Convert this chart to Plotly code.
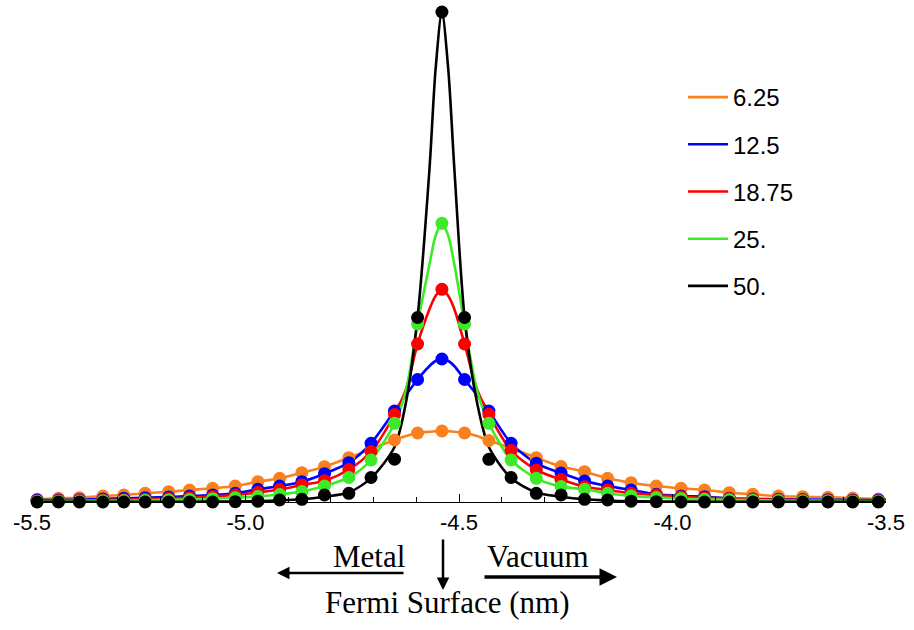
import plotly.graph_objects as go

# ---------------- data ----------------
series_names = ["6.25", "12.5", "18.75", "25.", "50."]
series_colors = ["rgb(250,128,30)", "rgb(0,0,255)", "rgb(255,0,0)", "rgb(60,235,40)", "rgb(0,0,0)"]

# sampled positions (nm)
x_pts = [-5.488, -5.438, -5.389, -5.334, -5.285, -5.235, -5.180, -5.131, -5.077, -5.024,
         -4.971, -4.920, -4.868, -4.815, -4.758, -4.706, -4.651, -4.597, -4.540, -4.487,
         -4.430, -4.378, -4.319, -4.261, -4.206, -4.152, -4.097, -4.038, -3.980, -3.925,
         -3.867, -3.812, -3.752, -3.695, -3.636, -3.578, -3.518]

orange_pts = [2.7, 3.7, 4.3, 6, 7, 8.7, 10.3, 12, 13.7, 16, 20.3, 23.7, 29.3, 35.3, 44.3, 53, 62, 69, 71,
              69, 61.5, 54, 44.3, 35.5, 30.3, 23.7, 19.3, 16, 13.7, 12, 9.3, 7.7, 6, 5.3, 4.7, 4, 3]
blue_pts = [2, 2, 2.3, 3, 3.7, 4.3, 5, 6, 7, 8.7, 12.7, 16, 20.3, 28.3, 39.3, 58.7, 91, 122.5, 143,
            122.5, 91, 58.7, 38.7, 29, 21, 16, 12, 7.7, 6, 5.3, 3.7, 3.1, 2.7, 2.5, 2.3, 2, 2]
red_pts = [1.1, 1.3, 1.6, 1.9, 2.3, 2.8, 3.5, 4.3, 5.5, 7, 9.5, 12.5, 17, 21.3, 32.5, 50.5, 87.5, 158, 212.7,
           158, 87.7, 51.5, 32, 22.5, 15.3, 12, 8.7, 7, 5.3, 4.3, 3.5, 2.8, 2.3, 1.9, 1.6, 1.3, 1.1]
green_pts = [0.7, 0.8, 1.0, 1.2, 1.4, 1.7, 2.1, 2.6, 3.3, 4.2, 5.5, 7.5, 10.5, 16, 24.5, 42, 78.7, 178, 278.7,
             178, 78.7, 42, 23.7, 15.5, 12.7, 8.7, 6, 4.5, 3.5, 2.7, 2.2, 1.8, 1.4, 1.2, 1.0, 0.8, 0.7]
black_pts = [0, 0, 0, 0, 0, 0, 0, 0, 0, 0.3, 0.8, 2, 2.7, 7, 8.7, 24.5, 42.8, 184.5, 490,
             184.5, 42.7, 24.5, 8.7, 7, 2.7, 2, 0.8, 0.3, 0, 0, 0, 0, 0, 0, 0, 0, 0]

# fitted curves
x_fit = [-5.5, -5.488, -5.438, -5.389, -5.334, -5.285, -5.235, -5.180, -5.131, -5.077, -5.024,
         -4.971, -4.920, -4.868, -4.815, -4.758, -4.706, -4.651, -4.624, -4.597, -4.569, -4.555,
         -4.540, -4.525, -4.511, -4.487, -4.458, -4.430, -4.378, -4.319, -4.261, -4.206, -4.152,
         -4.097, -4.038, -3.980, -3.925, -3.867, -3.812, -3.752, -3.695, -3.636, -3.578, -3.518, -3.5]

orange_fit = [2.5, 2.7, 3.7, 4.3, 6, 7, 8.7, 10.3, 12, 13.7, 16, 20.3, 23.7, 29.3, 35.3, 44.3, 53, 62,
              66, 69, 70.3, 70.8, 71, 70.8, 70.3, 69, 66,
              61.5, 54, 44.3, 35.5, 30.3, 23.7, 19.3, 16, 13.7, 12, 9.3, 7.7, 6, 5.3, 4.7, 4, 3, 2.8]
blue_fit = [1.9, 2, 2, 2.3, 3, 3.7, 4.3, 5, 6, 7, 8.7, 12.7, 16, 20.3, 28.3, 39.3, 58.7, 91,
            107, 122.5, 136, 141, 143, 141, 136, 122.5, 107,
            91, 58.7, 38.7, 29, 21, 16, 12, 7.7, 6, 5.3, 3.7, 3.1, 2.7, 2.5, 2.3, 2, 2, 1.9]
red_fit = [1.0, 1.1, 1.3, 1.6, 1.9, 2.3, 2.8, 3.5, 4.3, 5.5, 7, 9.5, 12.5, 17, 21.3, 32.5, 50.5, 87.5,
           113, 158, 193, 206, 212.7, 206, 193, 158, 113,
           87.7, 51.5, 32, 22.5, 15.3, 12, 8.7, 7, 5.3, 4.3, 3.5, 2.8, 2.3, 1.9, 1.6, 1.3, 1.1, 1.0]
green_fit = [0.6, 0.7, 0.8, 1.0, 1.2, 1.4, 1.7, 2.1, 2.6, 3.3, 4.2, 5.5, 7.5, 10.5, 16, 24.5, 42, 78.7,
             112, 178, 238, 266, 278.7, 266, 238, 178, 112,
             78.7, 42, 23.7, 15.5, 12.7, 8.7, 6, 4.5, 3.5, 2.7, 2.2, 1.8, 1.4, 1.2, 1.0, 0.8, 0.7, 0.6]
black_fit = [0, 0.2, 0.2, 0.2, 0.2, 0.2, 0.2, 0.3, 0.3, 0.4, 0.5, 0.8, 1.5, 2.7, 5.3, 9.5, 24, 55,
             100, 185, 334, 432, 490, 432, 334, 185, 100,
             55, 24, 9.5, 5.3, 2.7, 1.5, 0.8, 0.5, 0.4, 0.3, 0.3, 0.2, 0.2, 0.2, 0.2, 0.2, 0.2, 0]

tick_vals = [-5.5, -5.0, -4.5, -4.0, -3.5]
tick_text = ["-5.5", "-5.0", "-4.5", "-4.0", "-3.5"]

pts_all = [orange_pts, blue_pts, red_pts, green_pts, black_pts]
fit_all = [orange_fit, blue_fit, red_fit, green_fit, black_fit]

# ---------------- figure ----------------
fig = go.Figure()

for name, color, yf in zip(series_names, series_colors, fit_all):
    fig.add_trace(go.Scatter(
        x=x_fit, y=yf, mode="lines", name=name, legendgroup=name,
        line=dict(color=color, width=2.6, shape="spline", smoothing=0.8),
        cliponaxis=False,
    ))

for name, color, yp in zip(series_names, series_colors, pts_all):
    fig.add_trace(go.Scatter(
        x=x_pts, y=yp, mode="markers", name=name, legendgroup=name, showlegend=False,
        marker=dict(color=color, size=13, line=dict(width=0)),
        cliponaxis=False,
    ))

L, R, T, B = 32, 28, 2, 128
W, H = 914, 630
PW, PH = W - L - R, H - T - B


def px(xp):
    return (xp - L) / PW


def py(yp):
    return (H - B - yp) / PH


serif = "Liberation Serif, Times New Roman, serif"
annotations = [
    dict(text="Metal", x=px(369), y=py(556), xref="paper", yref="paper", showarrow=False,
         font=dict(family=serif, size=31, color="black"), xanchor="center", yanchor="middle"),
    dict(text="Vacuum", x=px(538), y=py(556), xref="paper", yref="paper", showarrow=False,
         font=dict(family=serif, size=31, color="black"), xanchor="center", yanchor="middle"),
    dict(text="Fermi Surface (nm)", x=px(447), y=py(602), xref="paper", yref="paper", showarrow=False,
         font=dict(family=serif, size=31, color="black"), xanchor="center", yanchor="middle"),
    dict(text="", x=px(277), y=py(573), xref="paper", yref="paper", showarrow=True,
         ax=128, ay=0, arrowhead=2, arrowsize=1, arrowwidth=2.5, arrowcolor="black"),
    dict(text="", x=px(617), y=py(577), xref="paper", yref="paper", showarrow=True,
         ax=-134, ay=0, arrowhead=2, arrowsize=1, arrowwidth=3.5, arrowcolor="black"),
    dict(text="", x=px(443), y=py(590), xref="paper", yref="paper", showarrow=True,
         ax=0, ay=-52, arrowhead=2, arrowsize=1, arrowwidth=2.5, arrowcolor="black"),
]

fig.update_layout(
    width=W, height=H,
    margin=dict(l=L, r=R, t=T, b=B),
    paper_bgcolor="white", plot_bgcolor="white",
    showlegend=True,
    legend=dict(
        x=px(683), y=py(75), xanchor="left", yanchor="top",
        font=dict(family="Liberation Sans, Arial, sans-serif", size=24, color="black"),
        traceorder="grouped", tracegroupgap=13, bgcolor="rgba(0,0,0,0)", itemwidth=40,
    ),
    xaxis=dict(
        range=[-5.5, -3.5], showgrid=False, zeroline=False,
        showline=True, linecolor="black", linewidth=1.3,
        tickmode="array", tickvals=tick_vals, ticktext=tick_text,
        ticks="inside", ticklen=8, tickwidth=1.2, tickcolor="black",
        tickfont=dict(family="Liberation Sans, Arial, sans-serif", size=22, color="black"),
        minor=dict(dtick=0.1, tick0=-5.5, ticks="inside", ticklen=5, tickwidth=1, tickcolor="black", showgrid=False),
    ),
    yaxis=dict(range=[0, 500], visible=False, showgrid=False, zeroline=False),
    annotations=annotations,
)

fig.write_html("out.html")
